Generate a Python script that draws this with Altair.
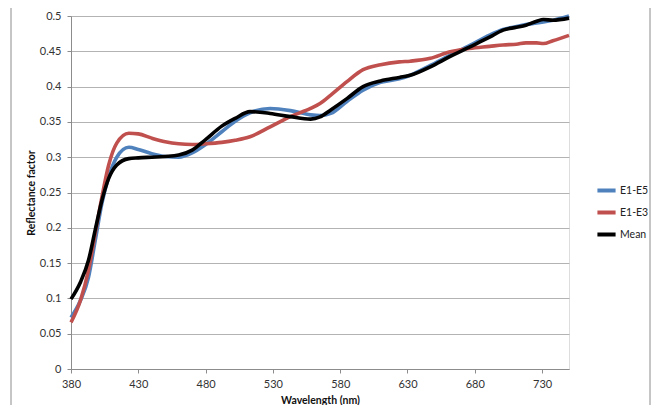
import altair as alt
import pandas as pd

wavelengths = [380, 387, 393, 398, 403, 408, 414, 423, 430, 440, 450, 460, 470, 480, 492, 502,
               513, 528, 543, 558, 565, 573, 585, 597, 610, 624, 632, 647, 661, 676, 691, 701,
               711, 718, 726, 731, 738, 750]

e1_e5 = [0.073, 0.097, 0.130, 0.182, 0.235, 0.272, 0.300, 0.314, 0.311, 0.305, 0.301, 0.300,
         0.306, 0.318, 0.336, 0.351, 0.363, 0.369, 0.366, 0.360, 0.359, 0.362, 0.379, 0.395,
         0.406, 0.411, 0.416, 0.430, 0.444, 0.458, 0.473, 0.481, 0.485, 0.488, 0.490, 0.4915,
         0.494, 0.500]

e1_e3 = [0.066, 0.097, 0.140, 0.192, 0.244, 0.289, 0.320, 0.334, 0.333, 0.327, 0.322, 0.319,
         0.318, 0.319, 0.321, 0.324, 0.329, 0.343, 0.3575, 0.369, 0.376, 0.388, 0.407, 0.424,
         0.431, 0.435, 0.436, 0.440, 0.449, 0.454, 0.457, 0.459, 0.460, 0.462, 0.462, 0.461,
         0.465, 0.4726]

mean = [0.099, 0.123, 0.154, 0.197, 0.239, 0.270, 0.289, 0.298, 0.299, 0.300, 0.301, 0.303,
        0.310, 0.325, 0.344, 0.355, 0.3646, 0.362, 0.3575, 0.354, 0.357, 0.367, 0.383, 0.400,
        0.408, 0.413, 0.416, 0.428, 0.442, 0.456, 0.470, 0.480, 0.484, 0.487, 0.4925, 0.495,
        0.494, 0.497]

series_names = ["E1-E5", "E1-E3", "Mean"]
series_colors = ["#4F81BD", "#C0504D", "#000000"]
x_ticks = [380, 430, 480, 530, 580, 630, 680, 730]
y_ticks = [0, 0.05, 0.1, 0.15, 0.2, 0.25, 0.3, 0.35, 0.4, 0.45, 0.5]

rows = []
for name, vals in zip(series_names, [e1_e5, e1_e3, mean]):
    for i, (w, v) in enumerate(zip(wavelengths, vals)):
        rows.append({"Wavelength": w, "Reflectance": v, "Series": name, "order": i})
df = pd.DataFrame(rows)

FONT = "Lato"

frame = alt.Chart(pd.DataFrame({"a": [0]})).mark_rect(
    fill=None, stroke="#8c8c8c", strokeWidth=1
).encode(
    x=alt.value(-60), x2=alt.value(579), y=alt.value(-30), y2=alt.value(420)
)

lines = alt.Chart(df).mark_line(interpolate="monotone", strokeWidth=3.6).encode(
    x=alt.X("Wavelength:Q",
            scale=alt.Scale(domain=[380, 750], nice=False, zero=False),
            axis=alt.Axis(values=x_ticks, title="Wavelength (nm)", grid=False,
                          tickSize=4, tickColor="#8c8c8c", domainColor="#8c8c8c",
                          labelFlush=False,
                          labelFont=FONT, labelFontSize=11, labelColor="#333333",
                          labelPadding=5, titleFont=FONT, titleFontSize=10.5,
                          titleFontWeight="bold", titleColor="#111111", titlePadding=6)),
    y=alt.Y("Reflectance:Q",
            scale=alt.Scale(domain=[0, 0.5], nice=False),
            axis=alt.Axis(values=y_ticks, format=".2~f", title="Reflectance factor",
                          grid=True, gridColor="#b3b3b3", gridWidth=1,
                          tickSize=4, tickColor="#8c8c8c", domainColor="#8c8c8c",
                          labelFlush=False,
                          labelFont=FONT, labelFontSize=11, labelColor="#333333",
                          labelPadding=6, titleFont=FONT, titleFontSize=10.5,
                          titleFontWeight="bold", titleColor="#111111", titlePadding=3)),
    color=alt.Color("Series:N",
                    scale=alt.Scale(domain=series_names, range=series_colors),
                    legend=alt.Legend(title=None, orient="none", legendX=524, legendY=163,
                                      symbolType="stroke", symbolStrokeWidth=4,
                                      symbolSize=330, labelFont=FONT, labelFontSize=10.5,
                                      labelColor="#222222", rowPadding=2, labelOffset=2)),
    order=alt.Order("order:Q"),
)

chart = alt.layer(frame, lines).properties(
    width=498, height=353,
    autosize=alt.AutoSizeParams(type="none"),
    padding={"left": 63, "top": 8, "right": 82, "bottom": 36},
).configure_view(stroke=None).configure(background="white")

chart.save("out.html", embed_options={"renderer": "svg", "actions": False})
